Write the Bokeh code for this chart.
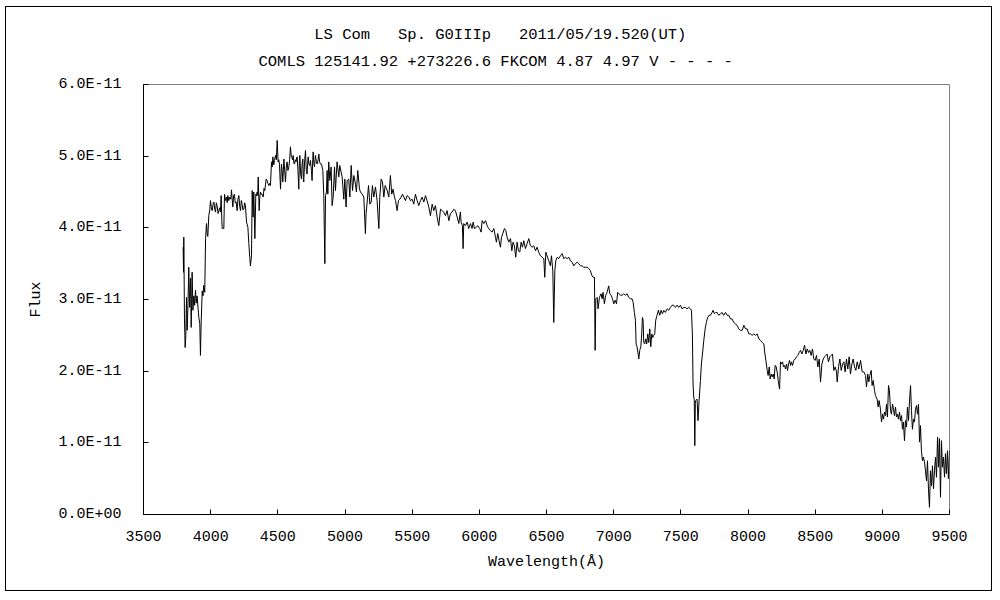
from bokeh.plotting import figure
from bokeh.models import Range1d, FixedTicker
from bokeh.embed import file_html
from bokeh.resources import INLINE

NB = "\u00a0"
title_line1 = "LS Com" + NB * 3 + "Sp. G0IIIp" + NB * 3 + "2011/05/19.520(UT)"
title_line2 = "COMLS 125141.92 +273226.6 FKCOM 4.87 4.97 V - - - -"
x_label = "Wavelength(Å)"
y_label = "Flux"
x_ticks = [3500, 4000, 4500, 5000, 5500, 6000, 6500, 7000, 7500, 8000, 8500, 9000, 9500]
y_ticks = [0, 1, 2, 3, 4, 5, 6]
y_tick_labels = ["0.0E+00", "1.0E-11", "2.0E-11", "3.0E-11", "4.0E-11", "5.0E-11", "6.0E-11"]

# wavelength (Angstrom) and flux (units of 1e-11)
wave_blue = [3795, 3798, 3800, 3805, 3810, 3815, 3820, 3825, 3830, 3837, 3843, 3850, 3855, 3862, 3868, 3875, 3881, 3887, 3893, 3899, 3906, 3912, 3919, 3924, 3929, 3937, 3943, 3949, 3956, 3962, 3969, 3975, 3979, 3986, 3993, 3999, 4005, 4011, 4018, 4024, 4030, 4036, 4042, 4048, 4055, 4061, 4067, 4073, 4078, 4083, 4086, 4092, 4098, 4103, 4110, 4118, 4123, 4128, 4135, 4143, 4150, 4155, 4160, 4165, 4171, 4177, 4183, 4190, 4197, 4203, 4210, 4216, 4222, 4228, 4234, 4240, 4247, 4253, 4259, 4267, 4277, 4284, 4291, 4296, 4304, 4309, 4316, 4321, 4329, 4336, 4341, 4346, 4350, 4354, 4361, 4366, 4371, 4376, 4383, 4391, 4397, 4403, 4408, 4413, 4420, 4426, 4433, 4440, 4445, 4453, 4458, 4463, 4470, 4475, 4483, 4489, 4495, 4502, 4507, 4512, 4520, 4527, 4532, 4537, 4545, 4551, 4557, 4563, 4569, 4575, 4582, 4588, 4594, 4600, 4604, 4610, 4614, 4620, 4624, 4630, 4636, 4640, 4644, 4650, 4656, 4660, 4664, 4670, 4676, 4681, 4686, 4690, 4693, 4700, 4706, 4712, 4718, 4722, 4726, 4732, 4738, 4743, 4750, 4755, 4760, 4763, 4768, 4773, 4777, 4780, 4787, 4793, 4800, 4805, 4811, 4817, 4825, 4835]
flux_blue = [3.73, 3.38, 3.87, 2.73, 2.33, 2.50, 3.03, 2.57, 2.85, 3.45, 2.89, 3.30, 2.61, 3.38, 2.85, 3.05, 2.92, 3.13, 2.95, 3.05, 2.88, 2.75, 2.66, 2.22, 2.66, 3.12, 3.05, 3.20, 3.10, 3.85, 4.06, 3.90, 3.88, 4.17, 4.25, 4.38, 4.28, 4.24, 4.33, 4.36, 4.26, 4.22, 4.35, 4.31, 4.20, 4.24, 4.28, 4.22, 4.45, 4.10, 3.99, 4.00, 3.99, 4.47, 4.38, 4.43, 4.35, 4.45, 4.38, 4.43, 4.40, 4.53, 4.40, 4.29, 4.45, 4.47, 4.35, 4.36, 4.24, 4.40, 4.45, 4.30, 4.24, 4.38, 4.33, 4.25, 4.26, 4.35, 4.31, 4.08, 4.01, 3.78, 3.59, 3.47, 3.61, 4.52, 4.15, 4.50, 3.85, 4.47, 4.45, 4.50, 4.45, 4.71, 4.24, 4.43, 4.50, 4.47, 4.47, 4.43, 4.55, 4.52, 4.60, 4.68, 4.66, 4.62, 4.59, 4.62, 4.59, 4.92, 4.85, 4.99, 4.88, 4.94, 5.01, 4.95, 5.22, 4.92, 4.95, 4.89, 4.54, 4.89, 4.80, 4.64, 4.96, 4.80, 4.64, 4.85, 4.92, 4.80, 4.85, 4.95, 5.13, 5.00, 4.99, 4.95, 5.01, 4.90, 4.89, 4.95, 4.92, 4.98, 4.99, 4.80, 4.54, 4.90, 5.01, 4.75, 4.68, 4.90, 4.96, 4.70, 4.64, 4.95, 5.08, 4.80, 4.75, 4.90, 4.99, 4.88, 4.87, 4.94, 4.80, 4.66, 4.95, 5.06, 4.90, 4.85, 4.95, 5.01, 4.92, 4.89, 4.95, 5.03, 4.92, 4.89, 4.89, 4.80]

wave_green = [4842, 4847, 4850, 4855, 4862, 4867, 4872, 4879, 4887, 4897, 4904, 4912, 4922, 4929, 4941, 4954, 4961, 4971, 4979, 4991, 4999, 5008, 5016, 5028, 5036, 5046, 5056, 5066, 5078, 5085, 5095, 5108, 5115, 5128, 5140, 5152, 5157, 5165, 5175, 5185, 5195, 5204, 5214, 5227, 5239, 5252, 5259, 5269, 5279, 5289, 5299, 5314, 5326, 5338, 5348, 5358, 5368, 5376, 5388, 5398, 5408, 5418, 5428, 5438, 5450, 5462, 5475, 5487, 5500, 5512, 5524, 5537, 5549, 5562, 5574, 5587, 5599, 5611, 5624, 5636, 5649, 5661, 5673, 5686, 5698, 5711, 5723, 5735, 5748, 5760, 5773, 5785, 5797, 5810, 5822, 5835, 5847, 5859]
flux_green = [4.45, 3.87, 3.50, 4.45, 4.50, 4.80, 4.47, 4.92, 4.66, 4.85, 4.31, 4.43, 4.85, 4.52, 4.92, 4.71, 4.87, 4.78, 4.71, 4.40, 4.68, 4.29, 4.66, 4.68, 4.43, 4.87, 4.52, 4.73, 4.61, 4.50, 4.80, 4.54, 4.50, 4.47, 4.43, 3.92, 4.20, 4.36, 4.59, 4.33, 4.36, 4.59, 4.43, 4.57, 4.38, 3.99, 4.43, 4.68, 4.64, 4.43, 4.59, 4.52, 4.43, 4.73, 4.47, 4.54, 4.43, 4.38, 4.24, 4.38, 4.40, 4.43, 4.47, 4.43, 4.38, 4.45, 4.43, 4.38, 4.40, 4.33, 4.47, 4.38, 4.31, 4.38, 4.43, 4.36, 4.45, 4.38, 4.29, 4.17, 4.33, 4.24, 4.31, 4.15, 4.03, 4.26, 4.24, 4.22, 4.17, 4.24, 4.10, 4.20, 4.22, 4.26, 4.24, 4.15, 4.06, 4.22]

wave_red = [5864, 5874, 5879, 5884, 5897, 5909, 5921, 5934, 5946, 5954, 5964, 5979, 5988, 6003, 6013, 6021, 6033, 6046, 6058, 6070, 6083, 6095, 6108, 6120, 6127, 6137, 6147, 6157, 6165, 6175, 6187, 6197, 6207, 6219, 6232, 6242, 6251, 6261, 6271, 6281, 6291, 6301, 6311, 6321, 6331, 6343, 6356, 6368, 6380, 6393, 6405, 6418, 6430, 6442, 6455, 6467, 6480, 6487, 6495, 6504, 6517, 6529, 6537, 6547, 6554, 6562, 6569, 6579, 6591, 6604, 6616, 6629, 6641, 6653, 6666, 6678, 6691, 6703, 6715, 6728, 6740, 6753, 6765, 6777, 6790, 6802, 6815, 6827, 6839, 6847, 6857, 6862]
flux_red = [4.08, 4.03, 3.71, 4.06, 4.03, 4.08, 3.99, 4.06, 3.99, 4.08, 3.99, 4.01, 4.03, 3.99, 3.94, 4.10, 4.06, 4.10, 4.03, 3.99, 3.96, 3.94, 3.99, 3.87, 3.80, 3.92, 3.82, 3.73, 3.87, 3.92, 3.99, 3.96, 3.87, 3.80, 3.85, 3.68, 3.80, 3.75, 3.59, 3.80, 3.68, 3.66, 3.80, 3.73, 3.82, 3.71, 3.78, 3.85, 3.75, 3.73, 3.75, 3.68, 3.73, 3.66, 3.61, 3.59, 3.57, 3.31, 3.66, 3.61, 3.54, 3.47, 3.61, 3.40, 2.68, 3.40, 3.54, 3.59, 3.57, 3.61, 3.64, 3.57, 3.59, 3.57, 3.59, 3.54, 3.52, 3.47, 3.50, 3.52, 3.50, 3.47, 3.47, 3.45, 3.45, 3.45, 3.43, 3.40, 3.33, 3.31, 3.31, 2.29]

wave_nir1 = [6867, 6877, 6884, 6894, 6906, 6914, 6921, 6931, 6941, 6951, 6963, 6971, 6981, 6991, 7001, 7011, 7021, 7030, 7040, 7050, 7063, 7075, 7087, 7100, 7112, 7125, 7137, 7145, 7154, 7162, 7167, 7174, 7182, 7187, 7194, 7202, 7209, 7214, 7219, 7224, 7231, 7239, 7246, 7254, 7261, 7269, 7276, 7284, 7291, 7298, 7306, 7313, 7323, 7333, 7343, 7353, 7363, 7373, 7385, 7398, 7410, 7422, 7435, 7447, 7460, 7472, 7484, 7497, 7509, 7522, 7534, 7546, 7559, 7571, 7579, 7586, 7591, 7596, 7600, 7604, 7608, 7611, 7621, 7628, 7636, 7646, 7653, 7661, 7671, 7681, 7690, 7700, 7710, 7720, 7733, 7740, 7750, 7760, 7770, 7782, 7795, 7807, 7819, 7832, 7844, 7857, 7869, 7881, 7894, 7906, 7919, 7931, 7943]
flux_nir1 = [3.01, 3.03, 2.87, 3.03, 3.08, 3.01, 3.10, 2.94, 3.06, 3.10, 3.19, 3.08, 3.06, 3.01, 2.94, 2.99, 2.94, 3.10, 3.08, 3.06, 3.06, 3.08, 3.06, 3.08, 3.03, 3.01, 3.01, 2.96, 2.82, 2.71, 2.38, 2.34, 2.24, 2.17, 2.29, 2.34, 2.52, 2.75, 2.71, 2.40, 2.38, 2.45, 2.38, 2.52, 2.40, 2.59, 2.34, 2.52, 2.47, 2.50, 2.52, 2.71, 2.78, 2.85, 2.78, 2.85, 2.80, 2.85, 2.82, 2.87, 2.85, 2.89, 2.92, 2.92, 2.89, 2.92, 2.89, 2.92, 2.87, 2.89, 2.89, 2.87, 2.89, 2.87, 2.85, 2.52, 1.82, 1.64, 1.60, 0.96, 1.55, 1.59, 1.61, 1.31, 1.59, 1.87, 2.10, 2.24, 2.43, 2.59, 2.68, 2.75, 2.78, 2.78, 2.82, 2.85, 2.80, 2.82, 2.82, 2.78, 2.80, 2.82, 2.78, 2.82, 2.78, 2.78, 2.73, 2.73, 2.68, 2.66, 2.64, 2.59, 2.57]

wave_nir2 = [7957, 7969, 7982, 7994, 8006, 8019, 8031, 8044, 8056, 8068, 8081, 8093, 8106, 8118, 8126, 8133, 8143, 8150, 8158, 8165, 8173, 8180, 8188, 8195, 8202, 8210, 8217, 8225, 8235, 8242, 8250, 8257, 8264, 8272, 8279, 8287, 8294, 8302, 8309, 8317, 8324, 8331, 8341, 8351, 8361, 8371, 8381, 8391, 8401, 8411, 8421, 8431, 8441, 8451, 8460, 8470, 8480, 8490, 8500, 8510, 8520, 8530, 8540, 8550, 8560, 8570, 8580, 8589, 8599, 8609, 8619, 8629, 8639, 8649, 8659, 8664, 8674, 8684, 8694, 8704, 8714, 8723, 8733, 8743, 8753, 8763, 8773, 8783, 8793, 8803, 8813, 8825, 8838]
flux_nir2 = [2.57, 2.64, 2.59, 2.59, 2.52, 2.52, 2.50, 2.52, 2.50, 2.52, 2.45, 2.43, 2.40, 2.38, 2.24, 2.15, 2.01, 1.94, 2.06, 1.89, 1.96, 1.92, 1.96, 1.89, 2.08, 2.06, 1.99, 1.87, 1.75, 2.13, 2.10, 2.13, 2.06, 2.08, 2.03, 2.10, 2.01, 2.10, 2.15, 2.08, 2.13, 2.08, 2.15, 2.17, 2.20, 2.22, 2.26, 2.29, 2.24, 2.29, 2.36, 2.24, 2.31, 2.26, 2.29, 2.22, 2.31, 2.17, 2.15, 2.22, 2.06, 2.17, 1.85, 2.10, 2.17, 2.20, 2.22, 2.24, 2.13, 2.20, 2.22, 2.24, 2.01, 2.06, 1.99, 1.85, 2.06, 2.17, 2.01, 2.10, 2.13, 1.99, 2.17, 2.03, 2.20, 1.96, 2.10, 2.17, 2.06, 2.01, 2.13, 2.03, 2.15]

wave_nir3 = [8850, 8862, 8875, 8882, 8892, 8899, 8907, 8917, 8924, 8932, 8942, 8949, 8961, 8969, 8976, 8986, 8994, 9001, 9009, 9016, 9024, 9031, 9038, 9046, 9053, 9061, 9068, 9076, 9083, 9090, 9098, 9105, 9113, 9120, 9128, 9135, 9143, 9150, 9157, 9165, 9172, 9180, 9187, 9195, 9202, 9210, 9217, 9224, 9232, 9239, 9247, 9254, 9262, 9269, 9277, 9284, 9291, 9299, 9306, 9314, 9321, 9329, 9336, 9344, 9351, 9358, 9366, 9373, 9381, 9388, 9396, 9403, 9411, 9418, 9425, 9433, 9440, 9448, 9455, 9463, 9470, 9477, 9485, 9492, 9500]
flux_nir3 = [1.99, 1.99, 1.94, 1.78, 1.96, 1.85, 1.94, 2.01, 1.80, 1.87, 1.73, 1.66, 1.61, 1.50, 1.59, 1.47, 1.29, 1.40, 1.33, 1.43, 1.38, 1.54, 1.36, 1.80, 1.73, 1.45, 1.40, 1.54, 1.47, 1.38, 1.50, 1.36, 1.40, 1.33, 1.43, 1.31, 1.38, 1.19, 1.29, 1.03, 1.31, 1.22, 1.50, 1.31, 1.57, 1.80, 1.45, 1.19, 1.33, 1.29, 1.47, 1.52, 1.40, 1.54, 1.01, 1.24, 0.89, 0.75, 0.80, 0.73, 0.61, 0.47, 0.75, 0.33, 0.10, 0.61, 0.40, 0.68, 0.36, 0.61, 0.80, 0.52, 1.08, 0.66, 1.06, 0.24, 1.03, 0.66, 0.80, 0.52, 0.85, 0.57, 0.89, 0.50, 0.89]

wave = wave_blue + wave_green + wave_red + wave_nir1 + wave_nir2 + wave_nir3
flux = flux_blue + flux_green + flux_red + flux_nir1 + flux_nir2 + flux_nir3

FONT = "Liberation Mono"
FS = "15px"
TFS = "15.5px"

p = figure(width=987, height=585, output_backend="svg", toolbar_location=None,
           x_range=Range1d(3500, 9500), y_range=Range1d(0, 6),
           min_border_left=137, min_border_right=44, min_border_top=77, min_border_bottom=78)
p.styles = {"border": "1px solid black", "margin-left": "5px", "margin-top": "6px"}
p.background_fill_color = "white"
p.border_fill_color = "white"
p.outline_line_color = "#808080"
p.outline_line_width = 1
p.xgrid.visible = False
p.ygrid.visible = False

p.line(wave, flux, line_color="black", line_width=1)

xa = p.xaxis[0]
xa.ticker = FixedTicker(ticks=x_ticks)
xa.axis_label = x_label
ya = p.yaxis[0]
ya.ticker = FixedTicker(ticks=y_ticks)
ya.major_label_overrides = {t: lab for t, lab in zip(y_ticks, y_tick_labels)}
ya.axis_label = y_label
for ax in (xa, ya):
    ax.axis_line_color = "black"
    ax.axis_line_width = 1
    ax.major_tick_in = 5
    ax.major_tick_out = 0
    ax.minor_tick_line_color = None
    ax.major_tick_line_color = "black"
    ax.major_label_text_font = FONT
    ax.major_label_text_font_size = FS
    ax.major_label_text_color = "black"
    ax.axis_label_text_font = FONT
    ax.axis_label_text_font_size = FS
    ax.axis_label_text_font_style = "normal"
    ax.axis_label_text_color = "black"
xa.major_label_standoff = 16
xa.axis_label_standoff = 10
ya.major_label_standoff = 22
ya.axis_label_standoff = 10

# two-line title, both lines left-aligned in a monospaced font
p.title.text = NB * 6 + title_line1 + "\n" + title_line2
p.title.align = "left"
p.title.offset = 115
p.title.standoff = 27
p.title.text_font = FONT
p.title.text_font_size = TFS
p.title.text_line_height = 1.5
p.title.text_font_style = "normal"
p.title.text_color = "black"

open("out.html", "w").write(file_html(p, INLINE))
